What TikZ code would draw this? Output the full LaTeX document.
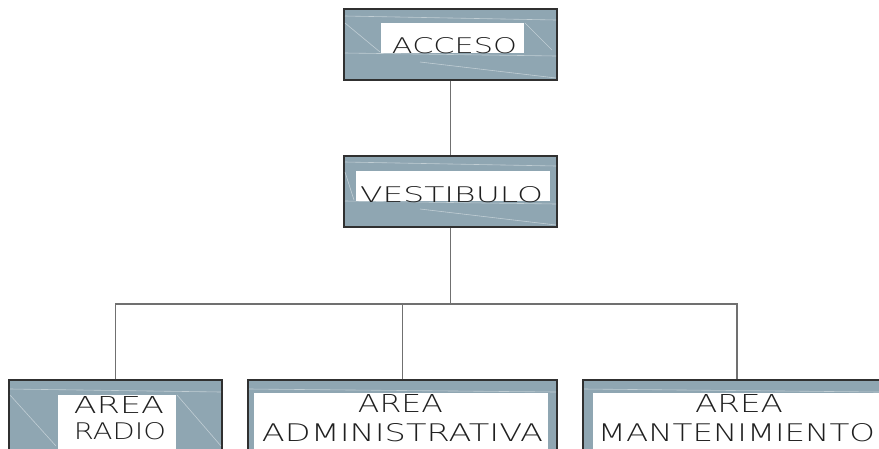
\documentclass[tikz,border=0pt]{standalone}
\usepackage{fontspec}
\usepackage{graphicx}
\newfontfamily\hand{DejaVu Sans ExtraLight}
\definecolor{boxfill}{HTML}{8FA6B2}
\definecolor{boxline}{HTML}{303030}
\definecolor{conn}{HTML}{707070}
\definecolor{inkc}{HTML}{202020}
\tikzset{
  unitbox/.style={draw=boxline, line width=1.4pt, fill=boxfill, inner sep=0pt},
  txt/.style={inner sep=0pt, text=inkc},
  wire/.style={draw=conn, line width=1.2pt},
  sheen/.style={draw=white, opacity=0.45, line width=0.6pt}
}
\newcommand\fitt[3]{\resizebox{#1pt}{#2pt}{\hand #3}}
\begin{document}
\begin{tikzpicture}[x=1pt,y=-1pt]
\useasboundingbox (0,0) rectangle (879,448);
\clip (0,0) rectangle (879,448);

% boxes
\node[unitbox, minimum width=213pt, minimum height=71pt] (acc) at (450.5,44.5) {};
\node[unitbox, minimum width=213pt, minimum height=71pt] (ves) at (450.5,191.5) {};
\node[unitbox, minimum width=213pt, minimum height=100pt] (radio) at (115.5,430) {};
\node[unitbox, minimum width=309pt, minimum height=100pt] (admin) at (402.5,430) {};
\node[unitbox, minimum width=308pt, minimum height=100pt] (mant) at (737,430) {};

% sheen lines
\draw[sheen] (345,16) -- (556,20);
\draw[sheen] (345,23) -- (380,52);
\draw[sheen] (525,23) -- (552,50);
\draw[sheen] (345,53) -- (556,56);
\draw[sheen] (420,62) -- (556,78);
\draw[sheen] (345,162) -- (556,166);
\draw[sheen] (345,172) -- (354,200);
\draw[sheen] (345,201) -- (556,204);
\draw[sheen] (420,209) -- (556,225);
\draw[sheen] (10,389) -- (221,392);
\draw[sheen] (10,395) -- (56,446);
\draw[sheen] (177,395) -- (221,446);
\draw[sheen] (249,389) -- (556,392);
\draw[sheen] (584,389) -- (879,392);

% white label panels
\fill[white] (381,23) rectangle (524,53);
\fill[white] (356,171) rectangle (550,201);
\fill[white] (58,395) rectangle (176,460);
\fill[white] (254,393) rectangle (548,460);
\fill[white] (593,393) rectangle (900,460);

% connectors
\coordinate (bus) at (451,304);
\draw[wire] (acc.south) -- (ves.north);
\draw[wire] (ves.south) -- (ves.south |- bus);
\draw[wire] (radio.north) -- (radio.north |- bus) -- (mant.north |- bus) -- (mant.north);
\draw[wire] (admin.north) -- (admin.north |- bus);

% texts
\node[txt] (t1) at (454.5,46) {\fitt{125}{16}{ACCESO}};
\node[txt] (t2) at (451.5,195) {\fitt{183}{16}{VESTIBULO}};
\node[txt] (t3) at (119,404.5) {\fitt{90}{17}{AREA}};
\node[txt] (t4) at (120,431.5) {\fitt{92}{17}{RADIO}};
\node[txt] (t5) at (400.5,403) {\fitt{85}{18}{AREA}};
\node[txt] (t6) at (402.5,433) {\fitt{281}{18}{ADMINISTRATIVA}};
\node[txt] (t7) at (739,403) {\fitt{88}{18}{AREA}};
\node[txt] (t8) at (736.5,433) {\fitt{277}{18}{MANTENIMIENTO}};
\end{tikzpicture}
\end{document}
